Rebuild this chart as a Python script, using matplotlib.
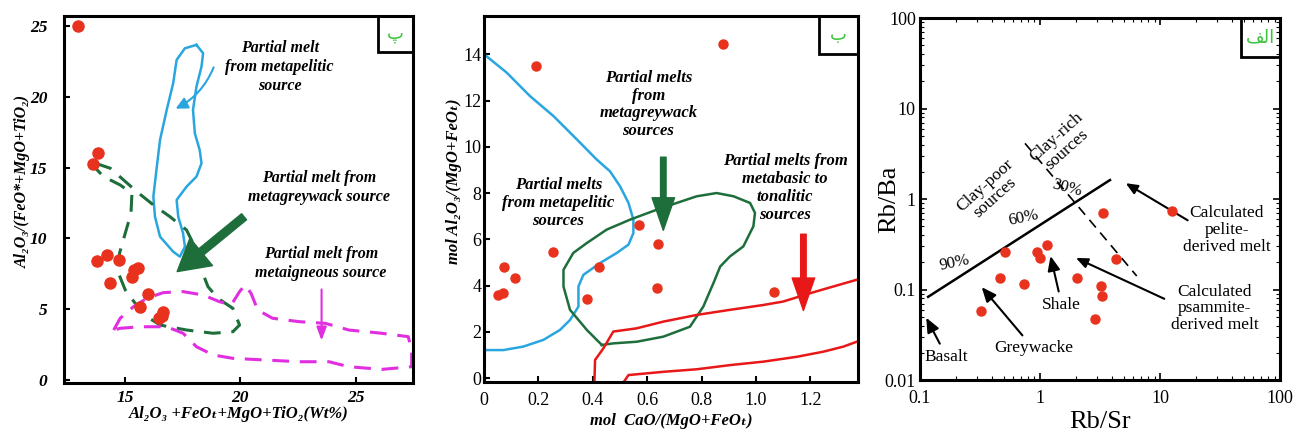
import matplotlib
matplotlib.use('Agg')
import matplotlib.pyplot as plt
from matplotlib.patches import Rectangle
from matplotlib import ticker

plt.rcParams['font.family'] = ['Liberation Serif', 'DejaVu Serif']
plt.rcParams['axes.linewidth'] = 2.2

RED = '#e8321e'
BLUE = '#2aa6df'
DGREEN = '#1e6e3c'
MAGENTA = '#e02ee0'
LGREEN = '#3cc43c'

# ---------------- left panel data ----------------
sum_ox = [12.93, 13.82, 13.60, 13.78, 14.20, 14.75, 14.35, 15.30, 15.40, 15.55, 15.98, 15.65, 16.48, 16.65, 16.58]
al_ratio = [25.0, 16.0, 15.25, 8.4, 8.8, 8.5, 6.85, 7.3, 7.8, 7.9, 6.05, 5.15, 4.35, 4.8, 4.55]

pelitic_x = [18.09, 18.38, 18.31, 18.09, 17.94, 18.02, 18.23, 18.31, 18.09, 17.66, 17.23, 17.30, 17.51,
             17.59, 17.37, 17.08, 16.51, 16.29, 16.22, 16.37, 16.51, 16.80, 17.08, 17.23, 17.59, 18.09]
pelitic_y = [23.66, 23.07, 22.13, 20.71, 19.07, 17.42, 16.24, 15.30, 14.36, 13.65, 12.71, 11.53, 10.36,
             9.41, 8.71, 9.06, 10.12, 11.53, 12.94, 15.06, 16.95, 19.07, 20.95, 22.60, 23.42, 23.66]

greywack_x = [13.71, 14.35, 14.93, 15.50, 16.22, 16.94, 17.66, 18.02, 18.31, 18.59, 19.02, 19.67, 19.96,
              19.67, 18.81, 17.66, 16.51, 15.94, 15.43, 15.00, 14.71, 14.75, 15.00, 15.25, 15.29, 14.78,
              14.06, 13.71, 13.71]
greywack_y = [15.30, 14.95, 14.12, 13.30, 12.36, 11.53, 10.59, 9.41, 7.77, 6.59, 5.77, 5.06, 3.88,
              3.41, 3.30, 3.53, 3.88, 4.47, 5.42, 6.36, 7.53, 8.94, 10.36, 11.77, 13.18, 13.77,
              14.36, 14.95, 15.30]

igneous_x = [14.50, 14.78, 15.36, 15.94, 16.65, 17.51, 18.38, 19.09, 19.60, 19.96, 20.20, 20.46, 20.75,
             21.39, 22.54, 23.69, 24.70, 26.13, 27.28, 27.43, 27.43, 26.13, 24.70, 23.84, 22.54, 21.11,
             19.67, 18.81, 18.09, 17.51, 16.80, 15.65, 14.78, 14.50]
igneous_y = [3.53, 4.36, 5.18, 5.77, 6.17, 6.24, 6.00, 5.53, 5.30, 6.24, 6.71, 6.12, 4.94,
             4.36, 4.12, 4.00, 3.53, 3.30, 3.06, 2.12, 0.94, 0.75, 0.94, 1.29, 1.29, 1.41,
             1.53, 1.77, 2.35, 3.30, 3.76, 3.76, 3.65, 3.53]

# ---------------- middle panel data ----------------
cao_ratio = [0.19, 0.877, 0.571, 0.638, 0.635, 0.424, 0.377, 0.253, 0.074, 0.114, 0.053, 0.069, 1.067]
al_mol = [13.49, 14.43, 6.63, 5.80, 3.91, 4.82, 3.41, 5.47, 4.82, 4.32, 3.60, 3.67, 3.70]

m_pel_x = [0.0, 0.083, 0.169, 0.255, 0.341, 0.414, 0.463, 0.50, 0.531, 0.549, 0.549, 0.531, 0.488,
           0.426, 0.365, 0.347, 0.347, 0.316, 0.279, 0.218, 0.144, 0.071, 0.0]
m_pel_y = [14.0, 13.21, 12.19, 11.33, 10.32, 9.45, 8.94, 8.29, 7.57, 6.85, 6.27, 5.77, 5.41,
           4.97, 4.46, 3.96, 3.09, 2.51, 2.08, 1.65, 1.36, 1.21, 1.21]

m_gw_x = [0.433, 0.378, 0.316, 0.292, 0.292, 0.328, 0.378, 0.451, 0.537, 0.635, 0.708, 0.782, 0.855,
          0.917, 0.978, 0.996, 0.990, 0.953, 0.904, 0.868, 0.843, 0.806, 0.757, 0.659, 0.561, 0.475, 0.433]
m_gw_y = [1.43, 2.08, 2.95, 3.96, 4.68, 5.41, 5.84, 6.42, 6.85, 7.28, 7.57, 7.86, 8.00,
          7.86, 7.57, 7.14, 6.56, 5.69, 5.26, 4.82, 4.10, 3.09, 2.22, 1.79, 1.57, 1.50, 1.43]

m_bas_x = [1.37, 1.284, 1.199, 1.10, 1.027, 0.904, 0.782, 0.659, 0.561, 0.475, 0.439, 0.408, 0.406, 0.406,
           0.506, 0.531, 0.659, 0.782, 0.904, 1.027, 1.15, 1.247, 1.321, 1.37]
m_bas_y = [4.25, 3.96, 3.67, 3.31, 3.16, 2.95, 2.73, 2.44, 2.15, 2.01, 1.29, 0.78, -0.09, -0.3,
           -0.3, 0.13, 0.27, 0.38, 0.56, 0.71, 0.92, 1.14, 1.36, 1.57]

# ---------------- right panel data ----------------
rb_sr = [0.51, 0.46, 0.32, 0.74, 0.94, 1.0, 1.14, 2.02, 3.37, 3.2, 3.3, 2.89, 4.3, 12.5]
rb_ba = [0.258, 0.135, 0.058, 0.114, 0.262, 0.225, 0.31, 0.135, 0.695, 0.109, 0.085, 0.047, 0.219, 0.736]
mix_x = [0.117, 3.83]
mix_y = [0.083, 1.62]
clay_x = [0.75, 6.4]
clay_y = [4.12, 0.141]

fig = plt.figure(figsize=(12.97, 4.33), dpi=100)

bi = dict(fontstyle='italic', fontweight='bold')


def corner_box(ax, letter, w, h):
    ax.add_patch(Rectangle((1 - w, 1 - h), w, h, transform=ax.transAxes, fill=False,
                           edgecolor='black', lw=2.0, zorder=6, clip_on=False))
    ax.text(1 - w / 2, 1 - h / 2, letter, transform=ax.transAxes, ha='center', va='center',
            color=LGREEN, fontsize=13, family=['DejaVu Sans'], zorder=7)


#############################################
ax1 = fig.add_axes([0.0493, 0.1155, 0.269, 0.8476])
ax1.plot(pelitic_x, pelitic_y, color=BLUE, lw=1.8)
ax1.plot(greywack_x, greywack_y, color=DGREEN, lw=2.2, dashes=(5.5, 3.5))
ax1.plot(igneous_x, igneous_y, color=MAGENTA, lw=2.2, dashes=(5.5, 3.5))
ax1.plot(sum_ox, al_ratio, 'o', color=RED, ms=8, mec=RED, zorder=5, clip_on=False)

ax1.annotate('', xy=(17.08, 19.07), xytext=(18.88, 22.25),
             arrowprops=dict(arrowstyle='-|>,head_width=0.35,head_length=0.7', color=BLUE, lw=1.5,
                             connectionstyle='arc3,rad=-0.2'))
ax1.annotate('', xy=(17.16, 7.53), xytext=(20.25, 11.65),
             arrowprops=dict(arrowstyle='simple,head_width=1.6,head_length=1.4,tail_width=0.35',
                             color=DGREEN, mutation_scale=16))
ax1.annotate('', xy=(23.52, 2.59), xytext=(23.52, 6.59),
             arrowprops=dict(arrowstyle='-|>,head_width=0.3,head_length=0.8', color=MAGENTA, lw=1.5))

ax1.text(21.7, 22.1, 'Partial melt\nfrom metapelitic\nsource', ha='center', va='center', fontsize=11.5,
         linespacing=1.25, **bi)
ax1.text(23.4, 13.6, 'Partial melt from\nmetagreywack source', ha='center', va='center', fontsize=11.5,
         linespacing=1.25, **bi)
ax1.text(23.5, 8.25, 'Partial melt from\nmetaigneous source', ha='center', va='center', fontsize=11.5,
         linespacing=1.25, **bi)

ax1.set_xlim(12.34, 27.48)
ax1.set_ylim(-0.21, 25.7)
ax1.set_xticks([15, 20, 25])
ax1.set_yticks([0, 5, 10, 15, 20, 25])
ax1.tick_params(direction='in', length=4, width=1.5, labelsize=12.5)
ax1.tick_params(axis='x', pad=5)
ax1.tick_params(axis='y', pad=12)
for lab in ax1.get_xticklabels() + ax1.get_yticklabels():
    lab.set_fontstyle('italic')
    lab.set_fontweight('bold')
ax1.set_xlabel('Al\u2082O\u2083 +FeO\u209c+MgO+TiO\u2082(Wt%)', fontsize=12, labelpad=0, **bi)
ax1.set_ylabel('Al\u2082O\u2083/(FeO*+MgO+TiO\u2082)', fontsize=11.5, **bi)
ax1.yaxis.set_label_coords(-0.095, 0.55)
corner_box(ax1, '\u067e', 0.1, 0.098)

#############################################
ax2 = fig.add_axes([0.3732, 0.1178, 0.2884, 0.845])
ax2.plot(m_pel_x, m_pel_y, color=BLUE, lw=1.8)
ax2.plot(m_gw_x, m_gw_y, color=DGREEN, lw=1.8)
ax2.plot(m_bas_x, m_bas_y, color='#e81818', lw=1.8)
ax2.plot(cao_ratio, al_mol, 'o', color=RED, ms=6.5, zorder=5)

ax2.annotate('', xy=(0.659, 6.27), xytext=(0.659, 9.67),
             arrowprops=dict(arrowstyle='simple,head_width=0.9,head_length=1.3,tail_width=0.22',
                             color=DGREEN, mutation_scale=18))
ax2.annotate('', xy=(1.174, 2.80), xytext=(1.174, 6.34),
             arrowprops=dict(arrowstyle='simple,head_width=0.9,head_length=1.3,tail_width=0.22',
                             color='#e81818', mutation_scale=18))

ax2.text(0.604, 11.83, 'Partial melts\nfrom\nmetagreywack\nsources', ha='center', va='center',
         fontsize=12, linespacing=1.15, **bi)
ax2.text(0.273, 7.57, 'Partial melts\nfrom metapelitic\nsources', ha='center', va='center',
         fontsize=12, linespacing=1.15, **bi)
ax2.text(1.107, 8.22, 'Partial melts from\nmetabasic to\ntonalitic\nsources', ha='center', va='center',
         fontsize=12, linespacing=1.15, **bi)

ax2.set_xlim(0, 1.375)
ax2.set_ylim(-0.17, 15.65)
ax2.set_xticks([0, 0.2, 0.4, 0.6, 0.8, 1.0, 1.2])
ax2.set_xticklabels(['0', '0.2', '0.4', '0.6', '0.8', '1.0', '1.2'])
ax2.set_yticks([0, 2, 4, 6, 8, 10, 12, 14])
ax2.tick_params(direction='in', length=4, width=1.5, labelsize=13)
ax2.tick_params(axis='x', pad=7)
ax2.tick_params(axis='y', pad=2)
ax2.set_xlabel('mol  CaO/(MgO+FeO\u209c)', fontsize=12, labelpad=3, **bi)
ax2.set_ylabel('mol Al\u2082O\u2083/(MgO+FeO\u209c)', fontsize=12, **bi)
ax2.yaxis.set_label_coords(-0.06, 0.55)
corner_box(ax2, '\u0628', 0.105, 0.104)

#############################################
ax3 = fig.add_axes([0.7093, 0.1224, 0.2776, 0.836])
ax3.set_xscale('log')
ax3.set_yscale('log')
ax3.plot(mix_x, mix_y, color='black', lw=1.8)
ax3.plot(clay_x, clay_y, color='black', lw=1.2, dashes=(6, 4))
ax3.plot(rb_sr, rb_ba, 'o', color=RED, ms=6.5, zorder=5)

arr = dict(arrowstyle='-|>,head_width=0.3,head_length=0.7', color='black', lw=1.5)
ax3.annotate('Basalt', xy=(0.110, 0.052), xytext=(0.167, 0.018), ha='center', va='center',
             fontsize=12.5, arrowprops=arr)
ax3.annotate('Greywacke', xy=(0.316, 0.112), xytext=(0.88, 0.0224), ha='center', va='center',
             fontsize=12.5, arrowprops=arr)
ax3.annotate('Shale', xy=(1.21, 0.251), xytext=(1.52, 0.0675), ha='center', va='center',
             fontsize=12.5, arrowprops=arr)
ax3.annotate('', xy=(4.95, 1.55), xytext=(17.8, 0.561), arrowprops=arr)
ax3.annotate('', xy=(1.9, 0.23), xytext=(11.4, 0.0766), arrowprops=arr)
ax3.text(36, 0.454, 'Calculated\npelite-\nderived melt', ha='center', va='center', fontsize=12.5,
         linespacing=1.05)
ax3.text(28.7, 0.062, 'Calculated\npsammite-\nderived melt', ha='center', va='center', fontsize=12.5,
         linespacing=1.05)
ax3.text(0.383, 1.2, 'Clay-poor\nsources', ha='center', va='center', fontsize=12.5, rotation=42,
         linespacing=1.0)
ax3.text(1.52, 4.12, 'Clay-rich\nsources', ha='center', va='center', fontsize=12.5, rotation=42,
         linespacing=1.0)
ax3.text(1.67, 1.31, '30%', ha='center', va='center', fontsize=12, rotation=-15)
ax3.text(0.726, 0.612, '60%', ha='center', va='center', fontsize=12, rotation=12)
ax3.text(0.196, 0.195, '90%', ha='center', va='center', fontsize=12, rotation=12)

ax3.set_xlim(0.1, 100)
ax3.set_ylim(0.01, 100)
ax3.set_xticks([0.1, 1, 10, 100])
ax3.set_xticklabels(['0.1', '1', '10', '100'])
ax3.set_yticks([0.01, 0.1, 1, 10, 100])
ax3.set_yticklabels(['0.01', '0.1', '1', '10', '100'])
ax3.xaxis.set_minor_formatter(ticker.NullFormatter())
ax3.yaxis.set_minor_formatter(ticker.NullFormatter())
ax3.tick_params(which='both', direction='in', top=True, right=True, labelsize=13)
ax3.tick_params(which='major', length=5, width=1.2)
ax3.tick_params(which='minor', length=3, width=0.8)
ax3.tick_params(axis='y', pad=3)
ax3.tick_params(axis='x', pad=7)
ax3.set_xlabel('Rb/Sr', fontsize=19)
ax3.set_ylabel('Rb/Ba', fontsize=19)
ax3.xaxis.set_label_coords(0.5, -0.085)
ax3.yaxis.set_label_coords(-0.055, 0.5)
corner_box(ax3, '\ufed2\ufedf\u0627', 0.108, 0.108)

plt.savefig('out.png', dpi=100)
